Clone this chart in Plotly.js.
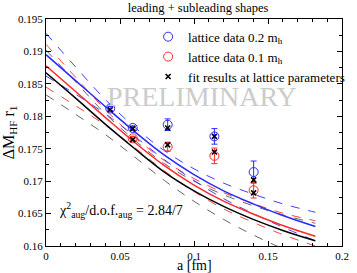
<!DOCTYPE html>
<html>
<head>
<meta charset="utf-8">
<script src="https://cdn.plot.ly/plotly-3.0.1.min.js"></script>
<style>html,body{margin:0;padding:0;background:#fff;}#chart{width:357px;height:273px;}</style>
</head>
<body>
<div id="chart"></div>
<script>
// lattice spacings of the data points
var aBlue = [0.0434, 0.0586, 0.0822, 0.1138, 0.1403];
var yBlue = [0.1812, 0.1782, 0.1787, 0.1769, 0.1714];
var eBlue = [0.0003, 0.0003, 0.0009, 0.0012, 0.0017];

var aRed = [0.0586, 0.0822, 0.1138, 0.1403];
var yRed = [0.1766, 0.1753, 0.1739, 0.1686];
var eRed = [0.0003, 0.0007, 0.0012, 0.0012];

var aFit = [0.0434, 0.0586, 0.0586, 0.0822, 0.0822, 0.1138, 0.1138, 0.1403, 0.1403];
var yFit = [0.1810, 0.1781, 0.1764, 0.1782, 0.1756, 0.1769, 0.1745, 0.1702, 0.1682];

// continuum curves
var aCurve = [0, 0.02, 0.04, 0.06, 0.08, 0.10, 0.12, 0.14, 0.16, 0.182];
var blueMid = [0.1895, 0.1855, 0.1815, 0.1776, 0.1740, 0.1710, 0.1685, 0.1665, 0.1647, 0.1630];
var blueUp  = [0.1928, 0.1876, 0.1826, 0.1783, 0.1747, 0.1719, 0.1697, 0.1680, 0.1665, 0.1652];
var blueLo  = [0.1862, 0.1834, 0.1804, 0.1769, 0.1733, 0.1701, 0.1673, 0.1650, 0.1629, 0.1608];
var redMid  = [0.1878, 0.18382, 0.17984, 0.17596, 0.17238, 0.1694, 0.16692, 0.16494, 0.16316, 0.1615];
var redUp   = [0.1911, 0.18602, 0.18104, 0.17676, 0.17318, 0.1704, 0.16822, 0.16654, 0.16506, 0.1639];
var redLo   = [0.1845, 0.18162, 0.17864, 0.17516, 0.17158, 0.1684, 0.16572, 0.16364, 0.16176, 0.1600];
var blackMid= [0.1867, 0.1828, 0.1788, 0.1750, 0.1714, 0.1685, 0.1661, 0.1641, 0.1624, 0.1608];
var blackUp = [0.1902, 0.1853, 0.1804, 0.1763, 0.1727, 0.1700, 0.1679, 0.1662, 0.1648, 0.1635];
var blackLo = [0.1833, 0.1803, 0.1772, 0.1737, 0.1701, 0.1669, 0.1641, 0.1617, 0.1596, 0.1577];

var xTickVals = [0, 0.05, 0.1, 0.15, 0.2];
var xTickText = ['0', '0.05', '0.1', '0.15', '0.2'];
var yTickVals = [0.16, 0.165, 0.17, 0.175, 0.18, 0.185, 0.19, 0.195];
var yTickText = ['0.16', '0.165', '0.17', '0.175', '0.18', '0.185', '0.19', '0.195'];

var BLUE = '#2a2aff', RED = '#ff2a2a', GREY = '#555555';
var serif = 'Liberation Serif, Times New Roman, serif';

function curve(y, color, dash, width) {
  return {x: aCurve, y: y, mode: 'lines', type: 'scatter', showlegend: false, hoverinfo: 'skip',
          line: {color: color, dash: dash, width: width, shape: 'spline'}};
}

var traces = [
  curve(blackUp, GREY, 'dash', 0.9),
  curve(blackLo, GREY, 'dash', 0.9),
  curve(redUp, RED, 'dash', 0.9),
  curve(redLo, RED, 'dash', 0.9),
  curve(blueUp, BLUE, 'dash', 0.9),
  curve(blueLo, BLUE, 'dash', 0.9),
  curve(blackMid, '#000000', 'solid', 1.5),
  curve(redMid, RED, 'solid', 1.5),
  curve(blueMid, BLUE, 'solid', 1.5),
  {x: aBlue, y: yBlue, type: 'scatter', mode: 'markers', name: 'lattice data 0.2 m<sub>h</sub>',
   marker: {symbol: 'circle-open', size: 9, color: BLUE, line: {width: 1}},
   error_y: {type: 'data', array: eBlue, color: BLUE, thickness: 1, width: 3}},
  {x: aRed, y: yRed, type: 'scatter', mode: 'markers', name: 'lattice data 0.1 m<sub>h</sub>',
   marker: {symbol: 'circle-open', size: 9, color: RED, line: {width: 1}},
   error_y: {type: 'data', array: eRed, color: RED, thickness: 1, width: 3}},
  {x: aFit, y: yFit, type: 'scatter', mode: 'markers', name: 'fit results at lattice parameters',
   marker: {symbol: 'x-thin-open', size: 5, color: '#000', line: {width: 1.6, color: '#000'}}}
];

var axisCommon = {
  showline: true, linecolor: '#000', linewidth: 1, mirror: 'allticks',
  ticks: 'inside', ticklen: 5, tickcolor: '#000', showgrid: false, zeroline: false,
  tickfont: {family: serif, size: 11, color: '#000'}, tickmode: 'array', automargin: false
};

var layout = {
  width: 357, height: 273,
  margin: {l: 46, r: 7, t: 19, b: 27},
  paper_bgcolor: '#fff', plot_bgcolor: '#fff',
  font: {family: serif, color: '#000'},
  title: {text: 'leading + subleading shapes', font: {family: serif, size: 12.5, color: '#000'},
          x: 0.555, xref: 'container', y: 0.972, yref: 'container', xanchor: 'center', yanchor: 'middle'},
  xaxis: Object.assign({}, axisCommon, {
    range: [0, 0.2], tickvals: xTickVals, ticktext: xTickText,
    minor: {tickmode: 'linear', tick0: 0, dtick: 0.01, ticks: 'inside', ticklen: 3, tickcolor: '#000', showgrid: false}
  }),
  yaxis: Object.assign({}, axisCommon, {
    range: [0.16, 0.195], tickvals: yTickVals, ticktext: yTickText,
    minor: {tickmode: 'linear', tick0: 0.16, dtick: 0.0025, ticks: 'inside', ticklen: 3, tickcolor: '#000', showgrid: false},
    title: {text: 'ΔM<sub>HF</sub> r<sub>1</sub>', font: {family: serif, size: 16, color: '#000'}, standoff: 4}
  }),
  legend: {x: 0.345, y: 0.988, xanchor: 'left', yanchor: 'top', bgcolor: 'rgba(0,0,0,0)',
           font: {family: serif, size: 13, color: '#000'}, tracegroupgap: 0},
  annotations: [
    {text: 'a [fm]', xref: 'paper', yref: 'paper', x: 0.5, y: -0.084, xanchor: 'center', yanchor: 'middle',
     showarrow: false, font: {family: serif, size: 14, color: '#000'}},
    {text: 'PRELIMINARY', xref: 'paper', yref: 'paper', x: 0.527, y: 0.735, showarrow: false,
     font: {family: serif, size: 28, color: '#cccccc'}},
    {text: 'χ<sup>2</sup><sub>aug</sub>/d.o.f.<sub>aug</sub> = 2.84/7', xref: 'paper', yref: 'paper',
     x: 0.036, y: 0.158, xanchor: 'left', yanchor: 'middle', showarrow: false,
     font: {family: serif, size: 14, color: '#000'}}
  ]
};

Plotly.newPlot('chart', traces, layout, {staticPlot: true, displayModeBar: false});
</script>
</body>
</html>
